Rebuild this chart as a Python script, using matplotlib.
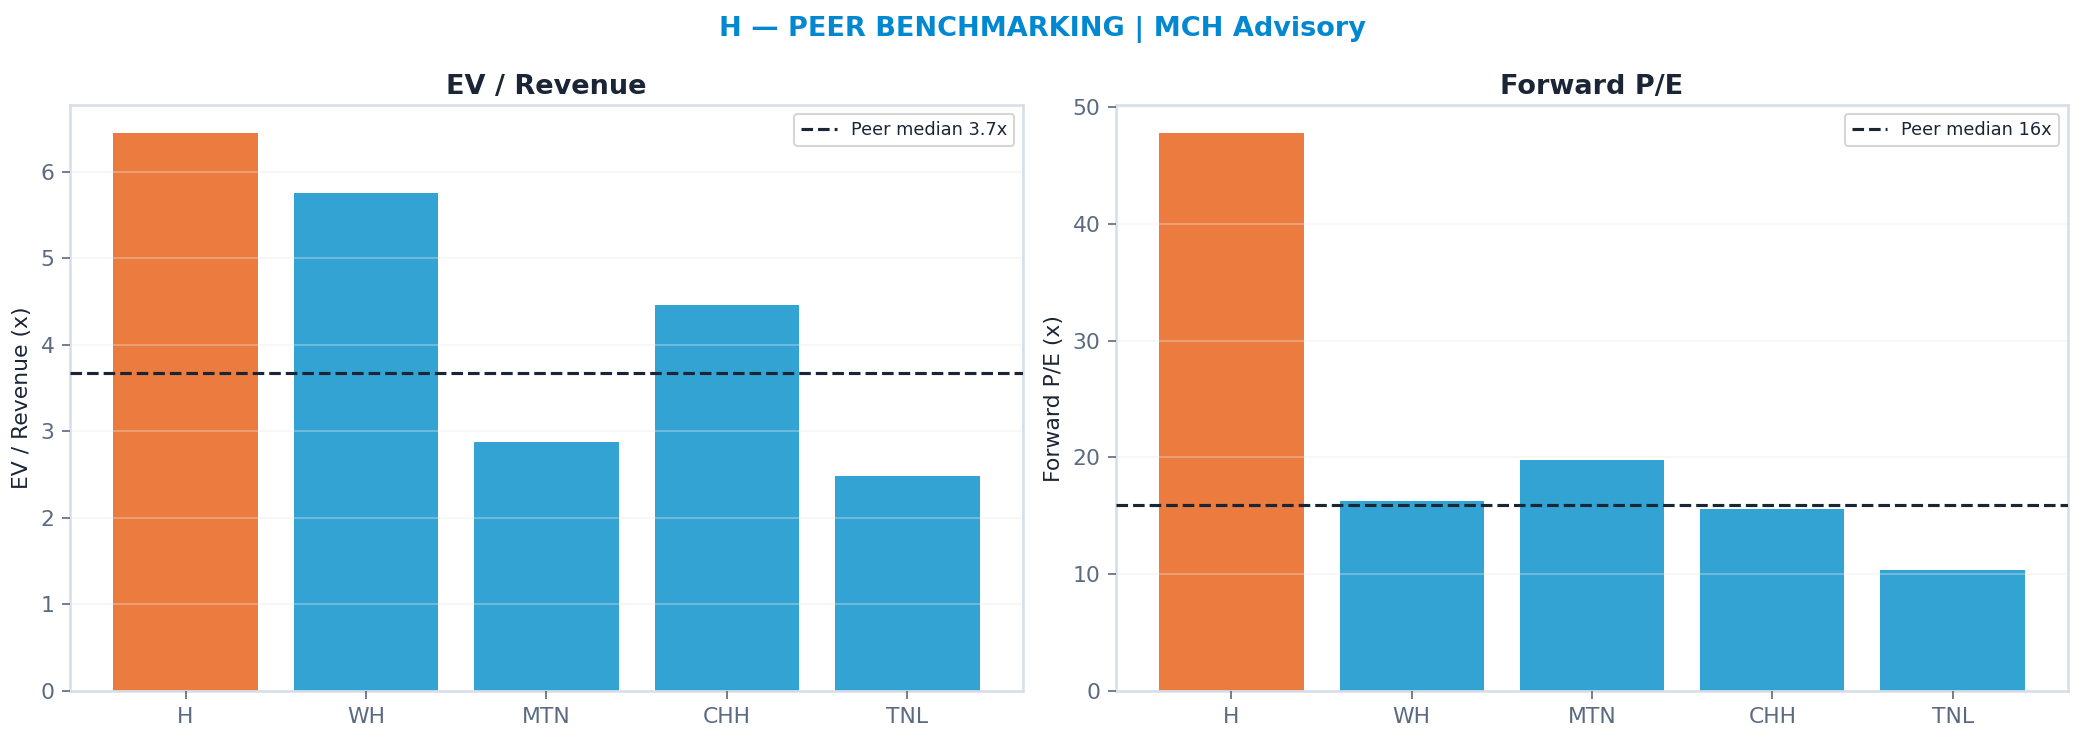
import matplotlib

matplotlib.use("Agg")
import matplotlib.pyplot as plt

# data
tickers = ["H", "WH", "MTN", "CHH", "TNL"]
ev_revenue = [6.45, 5.76, 2.88, 4.46, 2.49]
fwd_pe = [47.8, 16.3, 19.8, 15.6, 10.4]
ev_median = 3.67
pe_median = 15.95
ev_median_label = "Peer median 3.7x"
pe_median_label = "Peer median 16x"

ORANGE = "#EC7B3F"
BLUE = "#33A3D4"
TITLE_BLUE = "#0288D1"
DARK = "#1a2535"
TICK = "#5a6a80"
SPINE = "#d5dde8"

fig = plt.figure(figsize=(2084 / 150, 741 / 150), dpi=150)
ax1 = fig.add_axes([70 / 2084, 1 - 691 / 741, 953 / 2084, 586 / 741])
ax2 = fig.add_axes([1116 / 2084, 1 - 691 / 741, 952 / 2084, 586 / 741])


def panel(ax, values, median, median_label, title, ylabel):
    colors = [ORANGE] + [BLUE] * (len(values) - 1)
    ax.bar(tickers, values, color=colors, width=0.8, zorder=1)
    # grid sits over the bars, faint
    ax.set_axisbelow(False)
    ax.grid(axis="y", color="#e8e8e8", lw=0.8, alpha=0.4, zorder=2)
    ax.axhline(median, color=DARK, ls="--", lw=1.5, label=median_label,
               zorder=3)
    ax.set_title(title, fontsize=13, fontweight="bold", color=DARK, pad=5.5)
    ax.set_ylabel(ylabel, fontsize=10.5, color=DARK)
    ax.tick_params(colors=TICK, labelsize=10.5, length=4)
    for s in ax.spines.values():
        s.set_color(SPINE)
        s.set_linewidth(1.2)
    leg = ax.legend(loc="upper right", fontsize=8.5, frameon=True,
                    labelcolor=DARK)
    leg.get_frame().set_edgecolor("#cccccc")


panel(ax1, ev_revenue, ev_median, ev_median_label, "EV / Revenue",
      "EV / Revenue (x)")
panel(ax2, fwd_pe, pe_median, pe_median_label, "Forward P/E",
      "Forward P/E (x)")

fig.suptitle("H — PEER BENCHMARKING | MCH Advisory", fontsize=13,
             fontweight="bold", color=TITLE_BLUE, y=0.979)

fig.savefig("out.png", dpi=150, facecolor="white")
